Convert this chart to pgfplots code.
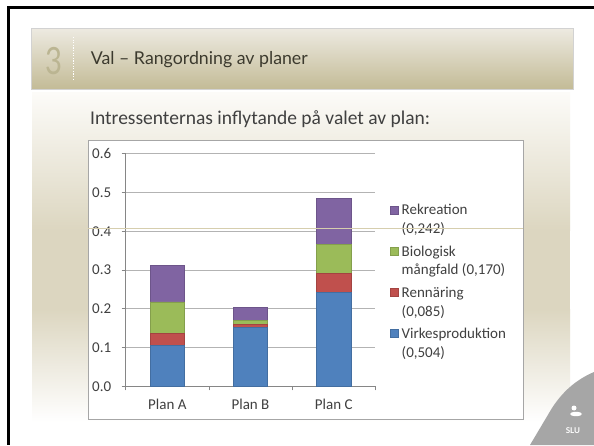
\documentclass[border=0pt]{standalone}
\usepackage{pgfplots}
\pgfplotsset{compat=1.18}
\usepackage{fontspec}
\setmainfont{Carlito}
\newfontfamily\carlito{Carlito}
\newfontfamily\titlefont{Lato}
\definecolor{cblue}{HTML}{4F81BD}
\definecolor{cred}{HTML}{C0504D}
\definecolor{cgreen}{HTML}{9BBB59}
\definecolor{cpurple}{HTML}{8064A2}
\definecolor{txt}{HTML}{404040}
\definecolor{axcol}{HTML}{868686}
\definecolor{gridcol}{HTML}{B3B3B3}
\definecolor{bannertop}{HTML}{EDEAE1}
\definecolor{bannermid}{HTML}{E4E0D0}
\definecolor{bannerbot}{HTML}{C3BB96}
\definecolor{panellight}{HTML}{FCFBF8}
\definecolor{paneltan}{HTML}{DCD6C0}
\definecolor{tanline}{HTML}{D6CEAE}
\definecolor{numcol}{HTML}{BBB592}
\definecolor{titlecol}{HTML}{3C3A2E}
\definecolor{logogray}{HTML}{A6A6A6}

\pgfplotstableread{
x blue red green purple
0 0.105 0.032 0.081 0.094
1 0.152 0.007 0.011 0.034
2 0.243 0.048 0.075 0.119
}\datatable

\begin{document}
\begin{tikzpicture}[x=1pt,y=1pt]
\path (0,0) rectangle (594,445);
\fill[white] (0,0) rectangle (594,445);
% background panel
\shade[top color=panellight, bottom color=paneltan] (32,214.5) rectangle (570,352);
\fill[paneltan] (32,134.5) rectangle (570,215.5);
\shade[top color=paneltan, bottom color=white] (32,23) rectangle (570,135.5);
% banner
\shade[top color=bannertop, middle color=bannermid, bottom color=bannerbot] (31,355.7) rectangle (573,416.7);
\draw[gray!35, line width=0.8pt] (31,355.7) rectangle (573,416.7);
\node[anchor=base west, inner sep=0, text=numcol, font=\titlefont\fontsize{37.5}{38}\selectfont] at (45.5,370) {\scalebox{0.78}[1]{3}};
\draw[white, line width=1.3pt, dash pattern=on 1.3pt off 1.3pt] (73.5,408) -- (73.5,364);
\node[anchor=base west, inner sep=0, text=titlecol, font=\titlefont\fontsize{17.75}{18}\selectfont] at (90.7,380) {Val – Rangordning av planer};
% subtitle
\node[anchor=base west, inner sep=0, text=txt, font=\carlito\fontsize{19.5}{21}\selectfont] at (90,320.5) {Intressenternas inflytande på valet av plan:};
% chart box
\draw[fill=white, draw=gray!70, line width=0.8pt] (88.3,25.7) rectangle (523.3,305);
\begin{axis}[
  at={(125.7pt,58.7pt)}, anchor=south west, scale only axis,
  width=249.6pt, height=232.6pt,
  ybar stacked, bar width=0.412,
  xmin=-0.5, xmax=2.5, ymin=0, ymax=0.6,
  xtick={-0.5,0.5,1.5,2.5}, xticklabels={},
  extra x ticks={0,1,2}, extra x tick labels={Plan A,Plan B,Plan C},
  extra x tick style={major tick length=0pt},
  xticklabel style={yshift=-9pt},
  ytick={0,0.1,0.2,0.3,0.4,0.5,0.6},
  yticklabel style={xshift=-7pt, /pgf/number format/.cd, fixed, fixed zerofill, precision=1, assume math mode=true},
  axis x line*=bottom, axis y line*=left,
  axis line style={draw=axcol, line width=0.8pt, -},
  tick style={draw=axcol, line width=0.8pt},
  tick align=outside, major tick length=4pt,
  ymajorgrids, grid style={draw=gridcol, line width=0.8pt},
  tick label style={font=\carlito\fontsize{15}{17}\selectfont, text=txt},
  reverse legend,
  legend image code/.code={\path[#1] (0pt,-1.5pt) rectangle (8pt,-9.5pt);},
  legend style={draw=none, fill=none, inner sep=0pt, row sep=10.5pt,
    at={(axis description cs:1.057,0.7837)}, anchor=north west,
    font=\carlito\fontsize{15}{18.7}\selectfont,
    cells={anchor=north west},
    nodes={inner sep=0pt, align=left, text=txt},
    /tikz/every odd column/.append style={column sep=3.6pt}},
]
\addplot[fill=cblue, draw=cblue!85!black, line width=0.4pt] table[x=x, y=blue] {\datatable};
\addlegendentry{Virkesproduktion\\(0,504)}
\addplot[fill=cred, draw=cred!85!black, line width=0.4pt] table[x=x, y=red] {\datatable};
\addlegendentry{Rennäring\\(0,085)}
\addplot[fill=cgreen, draw=cgreen!85!black, line width=0.4pt] table[x=x, y=green] {\datatable};
\addlegendentry{Biologisk\\mångfald (0,170)}
\addplot[fill=cpurple, draw=cpurple!85!black, line width=0.4pt] table[x=x, y=purple] {\datatable};
\addlegendentry{Rekreation\\(0,242)}
\end{axis}
% thin tan line across chart
\draw[tanline, line width=0.7pt] (88.3,216.3) -- (523.3,216.3);
% black border
\fill[black] (7,436) rectangle (594,438.5);
\fill[black] (7,0) rectangle (9.5,438.5);
% SLU logo corner
\fill[logogray] (530,0) -- (552,37) .. controls (565,57) and (580,67) .. (594,73) -- (594,0) -- cycle;
\fill[white] (576,31) ellipse (6pt and 2.2pt);
\fill[white] (574,37) circle (2.5pt);
\node[anchor=base, inner sep=0, text=white, font=\titlefont\bfseries\fontsize{8}{8}\selectfont] at (573,12) {SLU};
\pgfresetboundingbox
\path[use as bounding box] (0,0) rectangle (594,445);
\end{tikzpicture}
\end{document}
